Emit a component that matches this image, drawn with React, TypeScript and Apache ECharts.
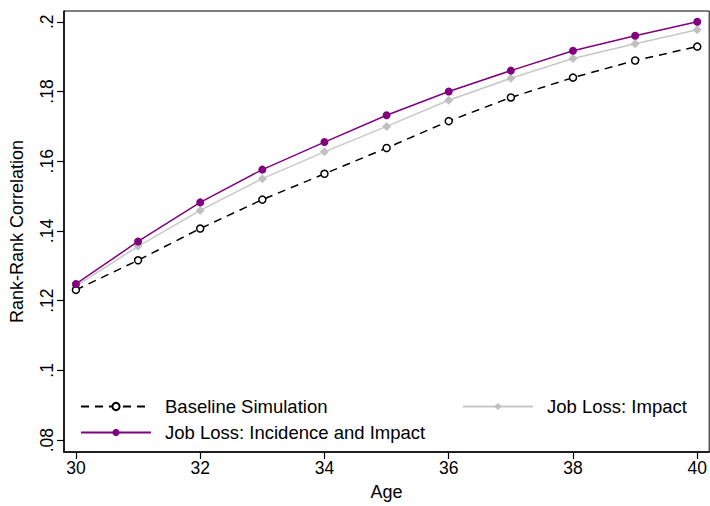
import React, { useEffect, useRef } from "react";
import * as echarts from "echarts";

const ages = [30, 31, 32, 33, 34, 35, 36, 37, 38, 39, 40];
const baseline = [0.1231, 0.1316, 0.1407, 0.149, 0.1564, 0.1638, 0.1715, 0.1783, 0.184, 0.1889, 0.1929];
const impact = [0.1242, 0.1356, 0.1459, 0.155, 0.1627, 0.170, 0.1775, 0.1838, 0.1895, 0.1937, 0.1977];
const incidence = [0.1248, 0.137, 0.1482, 0.1576, 0.1655, 0.1732, 0.180, 0.186, 0.1917, 0.196, 0.200];
const xTicks = [30, 32, 34, 36, 38, 40];
const yTicks = [0.08, 0.1, 0.12, 0.14, 0.16, 0.18, 0.2];

const FONT = "Liberation Sans";
const FS = 17.5;
const LFS = 18.5;

export default function App() {
  const ref = useRef<HTMLDivElement>(null);
  useEffect(() => {
    if (!ref.current) return;
    const chart = echarts.init(ref.current, null, { renderer: "svg" });
    const pair = (arr: number[]) => ages.map((a, i) => [a, arr[i]]);
    const legendBase = {
      itemWidth: 70,
      itemHeight: 9,
      itemGap: 15,
      textStyle: { fontFamily: FONT, fontSize: LFS, color: "#000", padding: [0, 0, 0, 9] },
      padding: 0,
    };
    chart.setOption({
      animation: false,
      backgroundColor: "#fff",
      grid: {
        left: 64,
        top: 11,
        right: -2,
        bottom: 50,
        show: true,
        borderColor: "#000",
        borderWidth: 1,
        backgroundColor: "transparent",
      },
      legend: [
        { ...legendBase, left: 80, top: 397, data: ["Baseline Simulation"] },
        { ...legendBase, left: 462, top: 397, data: ["Job Loss: Impact"] },
        { ...legendBase, left: 80, top: 423, data: ["Job Loss: Incidence and Impact"] },
      ],
      xAxis: {
        type: "value",
        min: 29.808,
        max: 40.192,
        name: "Age",
        nameLocation: "middle",
        nameGap: 31,
        nameTextStyle: { fontFamily: FONT, fontSize: 18, color: "#000", verticalAlign: "top" },
        axisLine: { show: true, lineStyle: { color: "#000", width: 1.5 } },
        axisTick: { show: true, customValues: xTicks, length: 7, lineStyle: { color: "#000", width: 1.2 } },
        axisLabel: {
          customValues: xTicks,
          fontFamily: FONT,
          fontSize: FS,
          color: "#000",
          margin: 7,
        },
        splitLine: { show: false },
      },
      yAxis: {
        type: "value",
        min: 0.0766,
        max: 0.2031,
        name: "Rank-Rank Correlation",
        nameLocation: "middle",
        nameGap: 38,
        nameRotate: 90,
        nameTextStyle: { fontFamily: FONT, fontSize: 18, color: "#000" },
        axisLine: { show: true, lineStyle: { color: "#000", width: 1.5 } },
        axisTick: { show: true, customValues: yTicks, length: 7, lineStyle: { color: "#000", width: 1.2 } },
        axisLabel: {
          customValues: yTicks,
          rotate: 90,
          fontFamily: FONT,
          fontSize: FS,
          color: "#000",
          margin: 8,
          formatter: (v: number) => String(parseFloat(v.toFixed(4))).replace(/^0/, ""),
        },
        splitLine: { show: false },
      },
      series: [
        {
          name: "Baseline Simulation",
          type: "line",
          data: pair(baseline),
          symbol: "circle",
          symbolSize: 7,
          showAllSymbol: true,
          lineStyle: { color: "#000", width: 1.5, type: [8, 6] },
          itemStyle: { color: "#fff", borderColor: "#000", borderWidth: 1.5 },
          z: 3,
        },
        {
          name: "Job Loss: Impact",
          type: "line",
          data: pair(impact),
          symbol: "diamond",
          symbolSize: 9,
          lineStyle: { color: "#c8c8c8", width: 1.5 },
          itemStyle: { color: "#c0c0c0" },
          z: 2,
        },
        {
          name: "Job Loss: Incidence and Impact",
          type: "line",
          data: pair(incidence),
          symbol: "circle",
          symbolSize: 8,
          lineStyle: { color: "#800080", width: 1.5 },
          itemStyle: { color: "#800080" },
          z: 4,
        },
      ],
    });
    return () => chart.dispose();
  }, []);
  return <div ref={ref} style={{ width: 710, height: 506, position: "absolute", left: 0, top: 0 }} />;
}
